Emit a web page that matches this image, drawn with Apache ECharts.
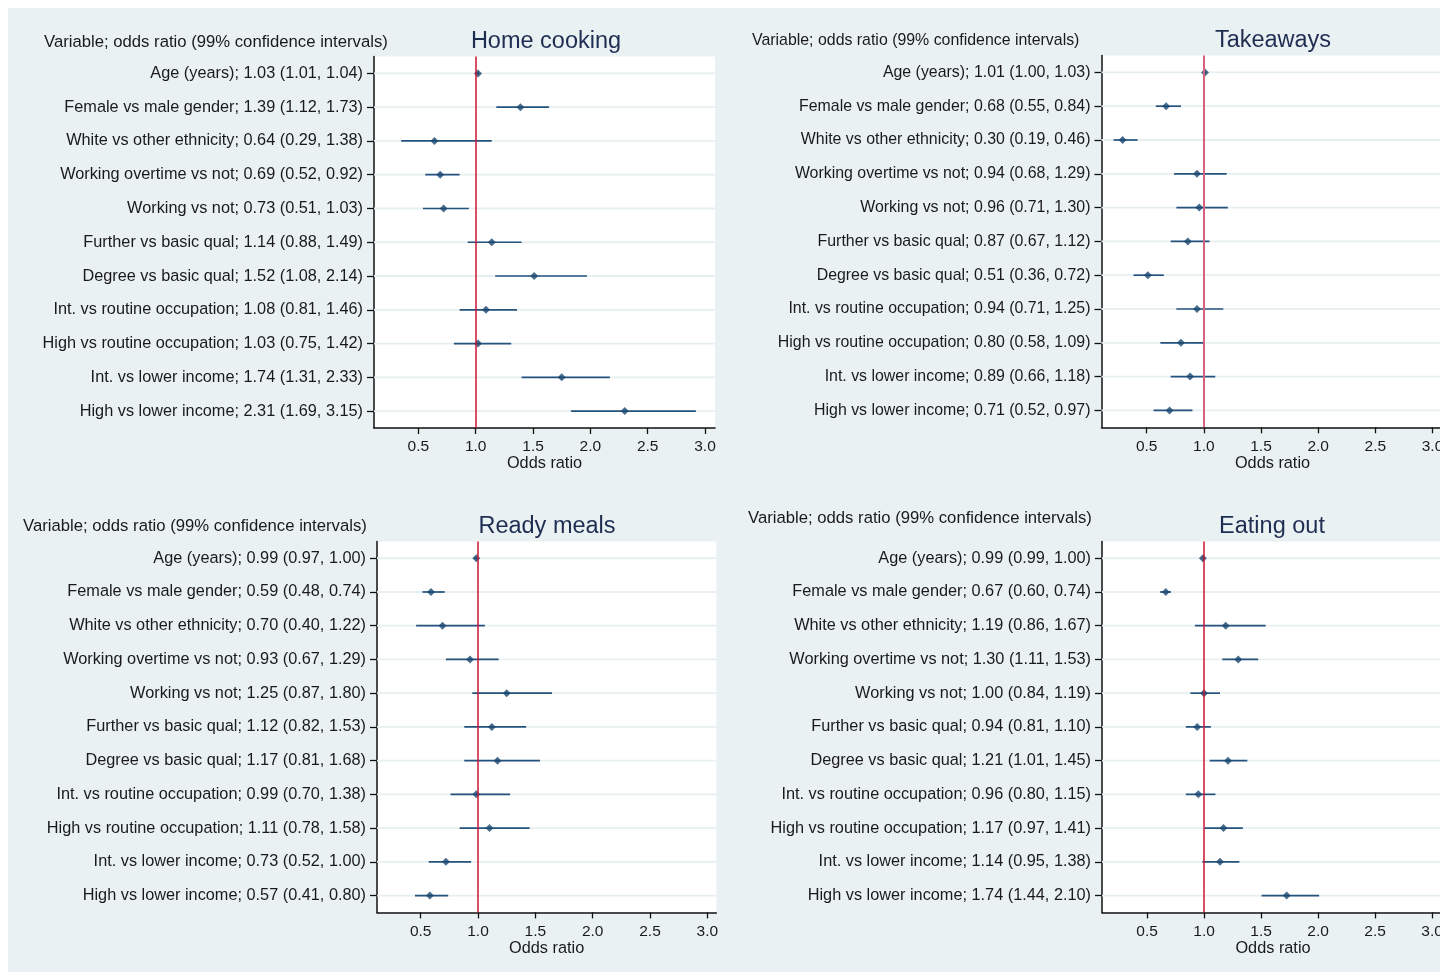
<!DOCTYPE html>
<html><head><meta charset="utf-8">
<script src="https://cdn.jsdelivr.net/npm/echarts@6/dist/echarts.min.js"></script>
<style>html,body{margin:0;padding:0;background:#fff}#c{width:1440px;height:972px}</style>
</head><body><div id="c"></div>
<script>
// ---------- data ----------
const homeLabels = [
  "Age (years); 1.03 (1.01, 1.04)",
  "Female vs male gender; 1.39 (1.12, 1.73)",
  "White vs other ethnicity; 0.64 (0.29, 1.38)",
  "Working overtime vs not; 0.69 (0.52, 0.92)",
  "Working vs not; 0.73 (0.51, 1.03)",
  "Further vs basic qual; 1.14 (0.88, 1.49)",
  "Degree vs basic qual; 1.52 (1.08, 2.14)",
  "Int. vs routine occupation; 1.08 (0.81, 1.46)",
  "High vs routine occupation; 1.03 (0.75, 1.42)",
  "Int. vs lower income; 1.74 (1.31, 2.33)",
  "High vs lower income; 2.31 (1.69, 3.15)"
];
const homeOR = [1.02, 1.39, 0.64, 0.69, 0.72, 1.14, 1.51, 1.09, 1.02, 1.75, 2.30];
const homeLo = [1.00, 1.18, 0.35, 0.56, 0.54, 0.93, 1.17, 0.86, 0.81, 1.40, 1.83];
const homeHi = [1.03, 1.64, 1.14, 0.86, 0.94, 1.40, 1.97, 1.36, 1.31, 2.17, 2.92];

const takeLabels = [
  "Age (years); 1.01 (1.00, 1.03)",
  "Female vs male gender; 0.68 (0.55, 0.84)",
  "White vs other ethnicity; 0.30 (0.19, 0.46)",
  "Working overtime vs not; 0.94 (0.68, 1.29)",
  "Working vs not; 0.96 (0.71, 1.30)",
  "Further vs basic qual; 0.87 (0.67, 1.12)",
  "Degree vs basic qual; 0.51 (0.36, 0.72)",
  "Int. vs routine occupation; 0.94 (0.71, 1.25)",
  "High vs routine occupation; 0.80 (0.58, 1.09)",
  "Int. vs lower income; 0.89 (0.66, 1.18)",
  "High vs lower income; 0.71 (0.52, 0.97)"
];
const takeOR = [1.01, 0.67, 0.29, 0.94, 0.96, 0.86, 0.51, 0.94, 0.80, 0.88, 0.70];
const takeLo = [1.00, 0.58, 0.21, 0.74, 0.76, 0.71, 0.385, 0.76, 0.62, 0.71, 0.56];
const takeHi = [1.02, 0.80, 0.42, 1.20, 1.21, 1.05, 0.65, 1.17, 1.00, 1.10, 0.90];

const readyLabels = [
  "Age (years); 0.99 (0.97, 1.00)",
  "Female vs male gender; 0.59 (0.48, 0.74)",
  "White vs other ethnicity; 0.70 (0.40, 1.22)",
  "Working overtime vs not; 0.93 (0.67, 1.29)",
  "Working vs not; 1.25 (0.87, 1.80)",
  "Further vs basic qual; 1.12 (0.82, 1.53)",
  "Degree vs basic qual; 1.17 (0.81, 1.68)",
  "Int. vs routine occupation; 0.99 (0.70, 1.38)",
  "High vs routine occupation; 1.11 (0.78, 1.58)",
  "Int. vs lower income; 0.73 (0.52, 1.00)",
  "High vs lower income; 0.57 (0.41, 0.80)"
];
const readyOR = [0.985, 0.59, 0.69, 0.93, 1.25, 1.12, 1.17, 0.985, 1.10, 0.72, 0.58];
const readyLo = [0.97, 0.515, 0.46, 0.72, 0.95, 0.88, 0.88, 0.76, 0.84, 0.57, 0.45];
const readyHi = [1.00, 0.71, 1.06, 1.18, 1.645, 1.42, 1.54, 1.28, 1.45, 0.94, 0.74];

const eatLabels = [
  "Age (years); 0.99 (0.99, 1.00)",
  "Female vs male gender; 0.67 (0.60, 0.74)",
  "White vs other ethnicity; 1.19 (0.86, 1.67)",
  "Working overtime vs not; 1.30 (1.11, 1.53)",
  "Working vs not; 1.00 (0.84, 1.19)",
  "Further vs basic qual; 0.94 (0.81, 1.10)",
  "Degree vs basic qual; 1.21 (1.01, 1.45)",
  "Int. vs routine occupation; 0.96 (0.80, 1.15)",
  "High vs routine occupation; 1.17 (0.97, 1.41)",
  "Int. vs lower income; 1.14 (0.95, 1.38)",
  "High vs lower income; 1.74 (1.44, 2.10)"
];
const eatOR = [0.99, 0.665, 1.19, 1.30, 1.00, 0.94, 1.21, 0.95, 1.17, 1.14, 1.725];
const eatLo = [0.985, 0.615, 0.92, 1.16, 0.88, 0.84, 1.05, 0.84, 1.005, 0.985, 1.505];
const eatHi = [1.00, 0.71, 1.54, 1.475, 1.14, 1.06, 1.38, 1.10, 1.34, 1.31, 2.01];

const panelTitles = ["Home cooking", "Takeaways", "Ready meals", "Eating out"];
const headerText = "Variable; odds ratio (99% confidence intervals)";
const xTicks = [0.5, 1.0, 1.5, 2.0, 2.5, 3.0];
const refValue = 1;
const xAxisName = "Odds ratio";

// ---------- layout ----------
const FONT = "Liberation Sans, Arial, sans-serif";
const panels = [
  {labels: homeLabels, or: homeOR, lo: homeLo, hi: homeHi, grid: {left: 374, top: 56.5, width: 341, height: 371.5}, min: 0.113, max: 3.087, ref: '#cc1535', refW: 1.5,
   title: [546, 42], header: [44, 42], lblSize: 16.3, hdrSize: 16.7},
  {labels: takeLabels, or: takeOR, lo: takeLo, hi: takeHi, grid: {left: 1101.5, top: 55.5, width: 342, height: 371.8}, min: 0.105, max: 3.096, ref: '#d5627e', refW: 2,
   title: [1273, 41], header: [752, 41], lblSize: 15.9, hdrSize: 15.9},
  {labels: readyLabels, or: readyOR, lo: readyLo, hi: readyHi, grid: {left: 377, top: 541.4, width: 339.3, height: 371}, min: 0.119, max: 3.078, ref: '#cc1535', refW: 1.5,
   title: [547, 527], header: [23, 526], lblSize: 16.3, hdrSize: 16.7},
  {labels: eatLabels, or: eatOR, lo: eatLo, hi: eatHi, grid: {left: 1102, top: 541.4, width: 342, height: 371}, min: 0.105, max: 3.105, ref: '#cc1535', refW: 1.5,
   title: [1272, 527], header: [748, 518], lblSize: 16.3, hdrSize: 16.7}
];

const NAVY = '#1a476f';
const grids = [], xAxes = [], yAxes = [], series = [], graphics = [];

graphics.push({type: 'rect', shape: {x: 8, y: 8, width: 1432, height: 964}, style: {fill: '#eaf1f3'}, z: -100, silent: true});

panels.forEach((p, i) => {
  grids.push(Object.assign({show: true, backgroundColor: '#ffffff', borderWidth: 0, containLabel: false, outerBoundsMode: 'none'}, p.grid));
  xAxes.push({
    type: 'value', gridIndex: i, min: p.min, max: p.max,
    name: xAxisName, nameLocation: 'middle', nameGap: 27,
    nameTextStyle: {fontFamily: FONT, fontSize: 16.3, color: '#1a1a1a'},
    axisLine: {show: true, onZero: false, lineStyle: {color: '#111', width: 1.5}},
    axisTick: {show: true, length: 6, customValues: xTicks, lineStyle: {color: '#111', width: 1.3}},
    axisLabel: {customValues: xTicks, margin: 11, fontFamily: FONT, fontSize: 15.5, color: '#1a1a1a',
      formatter: v => Number(v).toFixed(1)},
    splitLine: {show: false}
  });
  yAxes.push({
    type: 'category', gridIndex: i, data: p.labels, inverse: true,
    axisLine: {show: true, lineStyle: {color: '#111', width: 1.5}},
    axisTick: {show: true, alignWithLabel: true, length: 7, lineStyle: {color: '#111', width: 1.3}},
    axisLabel: {margin: 11, fontFamily: FONT, fontSize: p.lblSize, color: '#1a1a1a'},
    splitLine: {show: false}
  });
  // gridlines at each row + reference line
  series.push({
    type: 'custom', xAxisIndex: i, yAxisIndex: i, z: 1, silent: true,
    data: p.labels.map((_, k) => [refValue, k]),
    encode: {x: 0, y: 1},
    renderItem: (params, api) => {
      const pt = api.coord([api.value(0), api.value(1)]);
      const cs = params.coordSys;
      return {type: 'line', shape: {x1: cs.x, y1: pt[1], x2: cs.x + cs.width, y2: pt[1]},
        style: {stroke: '#e7eff1', lineWidth: 1.8}};
    },
    markLine: {silent: true, symbol: 'none', label: {show: false},
      lineStyle: {color: p.ref, width: p.refW, type: 'solid'},
      data: [{xAxis: refValue}], animation: false}
  });
  // CI lines
  series.push({
    type: 'custom', xAxisIndex: i, yAxisIndex: i, z: 3, silent: true,
    data: p.lo.map((v, k) => [v, p.hi[k], k]),
    encode: {x: [0, 1], y: 2},
    renderItem: (params, api) => {
      const a = api.coord([api.value(0), api.value(2)]);
      const b = api.coord([api.value(1), api.value(2)]);
      return {type: 'line', shape: {x1: a[0], y1: a[1], x2: b[0], y2: b[1]},
        style: {stroke: '#24537e', lineWidth: 1.7}};
    }
  });
  // point estimates
  series.push({
    type: 'scatter', xAxisIndex: i, yAxisIndex: i, z: 4, silent: true,
    symbol: 'diamond', symbolSize: 8,
    itemStyle: {color: NAVY},
    data: p.or.map((v, k) => [v, k])
  });
  graphics.push({type: 'text', x: p.title[0], y: p.title[1], silent: true,
    style: {text: panelTitles[i], font: '23.5px ' + FONT, fill: '#1e2d52', align: 'center', verticalAlign: 'middle'}});
  graphics.push({type: 'text', x: p.header[0], y: p.header[1], silent: true,
    style: {text: headerText, font: p.hdrSize + 'px ' + FONT, fill: '#1a1a1a', align: 'left', verticalAlign: 'middle'}});
});

const chart = echarts.init(document.getElementById('c'), null, {renderer: 'canvas'});
chart.setOption({
  animation: false,
  backgroundColor: '#ffffff',
  grid: grids, xAxis: xAxes, yAxis: yAxes, series: series, graphic: graphics
});
</script></body></html>
